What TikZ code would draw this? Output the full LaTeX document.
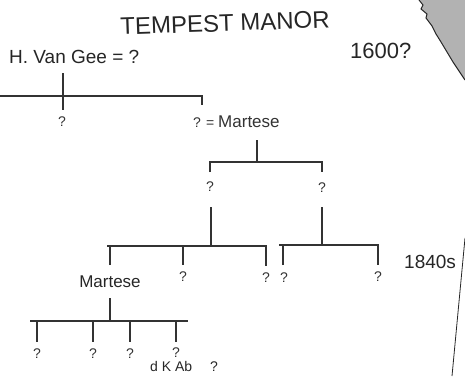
\documentclass[tikz,border=0pt]{standalone}
\usepackage{fontspec}
\setsansfont{Liberation Sans}
\begin{document}
\begin{tikzpicture}[x=1pt,y=-1pt,
  ln/.style={draw=black!80, line width=1.5pt},
  titlefont/.style={font=\sffamily\fontsize{24}{24}\selectfont, inner sep=0pt, text=black!85},
  hand/.style={font=\sffamily\fontsize{17}{17}\selectfont, inner sep=0pt, text=black!85},
  big/.style={font=\sffamily\fontsize{22}{22}\selectfont, inner sep=0pt, text=black!85},
  q/.style={font=\sffamily\fontsize{14}{14}\selectfont, inner sep=0pt, text=black!80}]
\useasboundingbox (0,0) rectangle (465,376);
% torn paper corner
\fill[black!30] (419,0) -- (423,5) -- (421,9) -- (427,14) -- (426,18) -- (432,26) -- (436,34) -- (441,42) -- (447,52) -- (453,62) -- (459,71) -- (465,80) -- (465,0) -- cycle;
\draw[black!85, line width=1pt] (419,0) -- (423,5) -- (421,9) -- (427,14) -- (426,18) -- (432,26) -- (436,34) -- (441,42) -- (447,52) -- (453,62) -- (459,71) -- (465,80);
\draw[black!85, line width=0.8pt] (465,238) -- (452,376);
% texts
\node[titlefont, rotate=2] (title) at (225,23) {TEMPEST MANOR};
\node[hand, anchor=west, font=\sffamily\fontsize{19}{19}\selectfont] (vangee) at (9,57) {H. Van Gee = ?};
\node[big, anchor=west] (d1600) at (350,51) {1600?};
\node[big, anchor=west, font=\sffamily\fontsize{19}{19}\selectfont] (d1840) at (404,262) {1840s};
% generation 1
\coordinate (p0) at (63,73);
\coordinate (b1l) at (0,96);
\coordinate (b1r) at (202,96);
\node[q] (c1) at (62,122) {?};
\node[q, anchor=west] (c2) at (193,122) {? = {\fontsize{17}{17}\selectfont Martese}};
\draw[ln] (b1l) -- (b1r) -- (202,105);
\draw[ln] (p0) -- (63,110);
% generation 2
\coordinate (p1) at (257,140);
\coordinate (b2l) at (210,162);
\coordinate (b2r) at (322,162);
\draw[ln] (p1) -- (257,162);
\draw[ln] (210,172) -- (b2l) -- (b2r) -- (322,172);
\node[q] (g2a) at (210,187) {?};
\node[q] (g2b) at (322,188) {?};
\draw[ln] (211,207) -- (211,246);
\draw[ln] (322,207) -- (322,245);
% generation 3
\coordinate (b3l) at (107,246);
\coordinate (b3r) at (266,246);
\coordinate (b4l) at (279,245);
\coordinate (b4r) at (378,245);
\draw[ln] (110,265) -- (110,246);
\draw[ln] (b3l) -- (b3r) -- (266,266);
\draw[ln] (183,246) -- (183,265);
\draw[ln] (283,265) -- (283,245);
\draw[ln] (b4l) -- (b4r) -- (378,265);
\node[hand] (martese) at (110,282) {Martese};
\node[q] (g3b) at (183,277) {?};
\node[q] (g3c) at (266,278) {?};
\node[q] (g3d) at (284,278) {?};
\node[q] (g3e) at (378,277) {?};
% generation 4
\draw[ln] (110,298) -- (110,321);
\draw[ln] (30,321) -- (188,321);
\foreach \x in {37,93,130,176} \draw[ln] (\x,321) -- (\x,342);
\node[q] (g4a) at (37,354) {?};
\node[q] (g4b) at (93,354) {?};
\node[q] (g4c) at (130,354) {?};
\node[q] (g4d) at (176,353) {?};
\node[hand, anchor=south west, font=\sffamily\fontsize{14}{14}\selectfont] (bottom) at (150,372) {d K Ab \quad ?};
\end{tikzpicture}
\end{document}
